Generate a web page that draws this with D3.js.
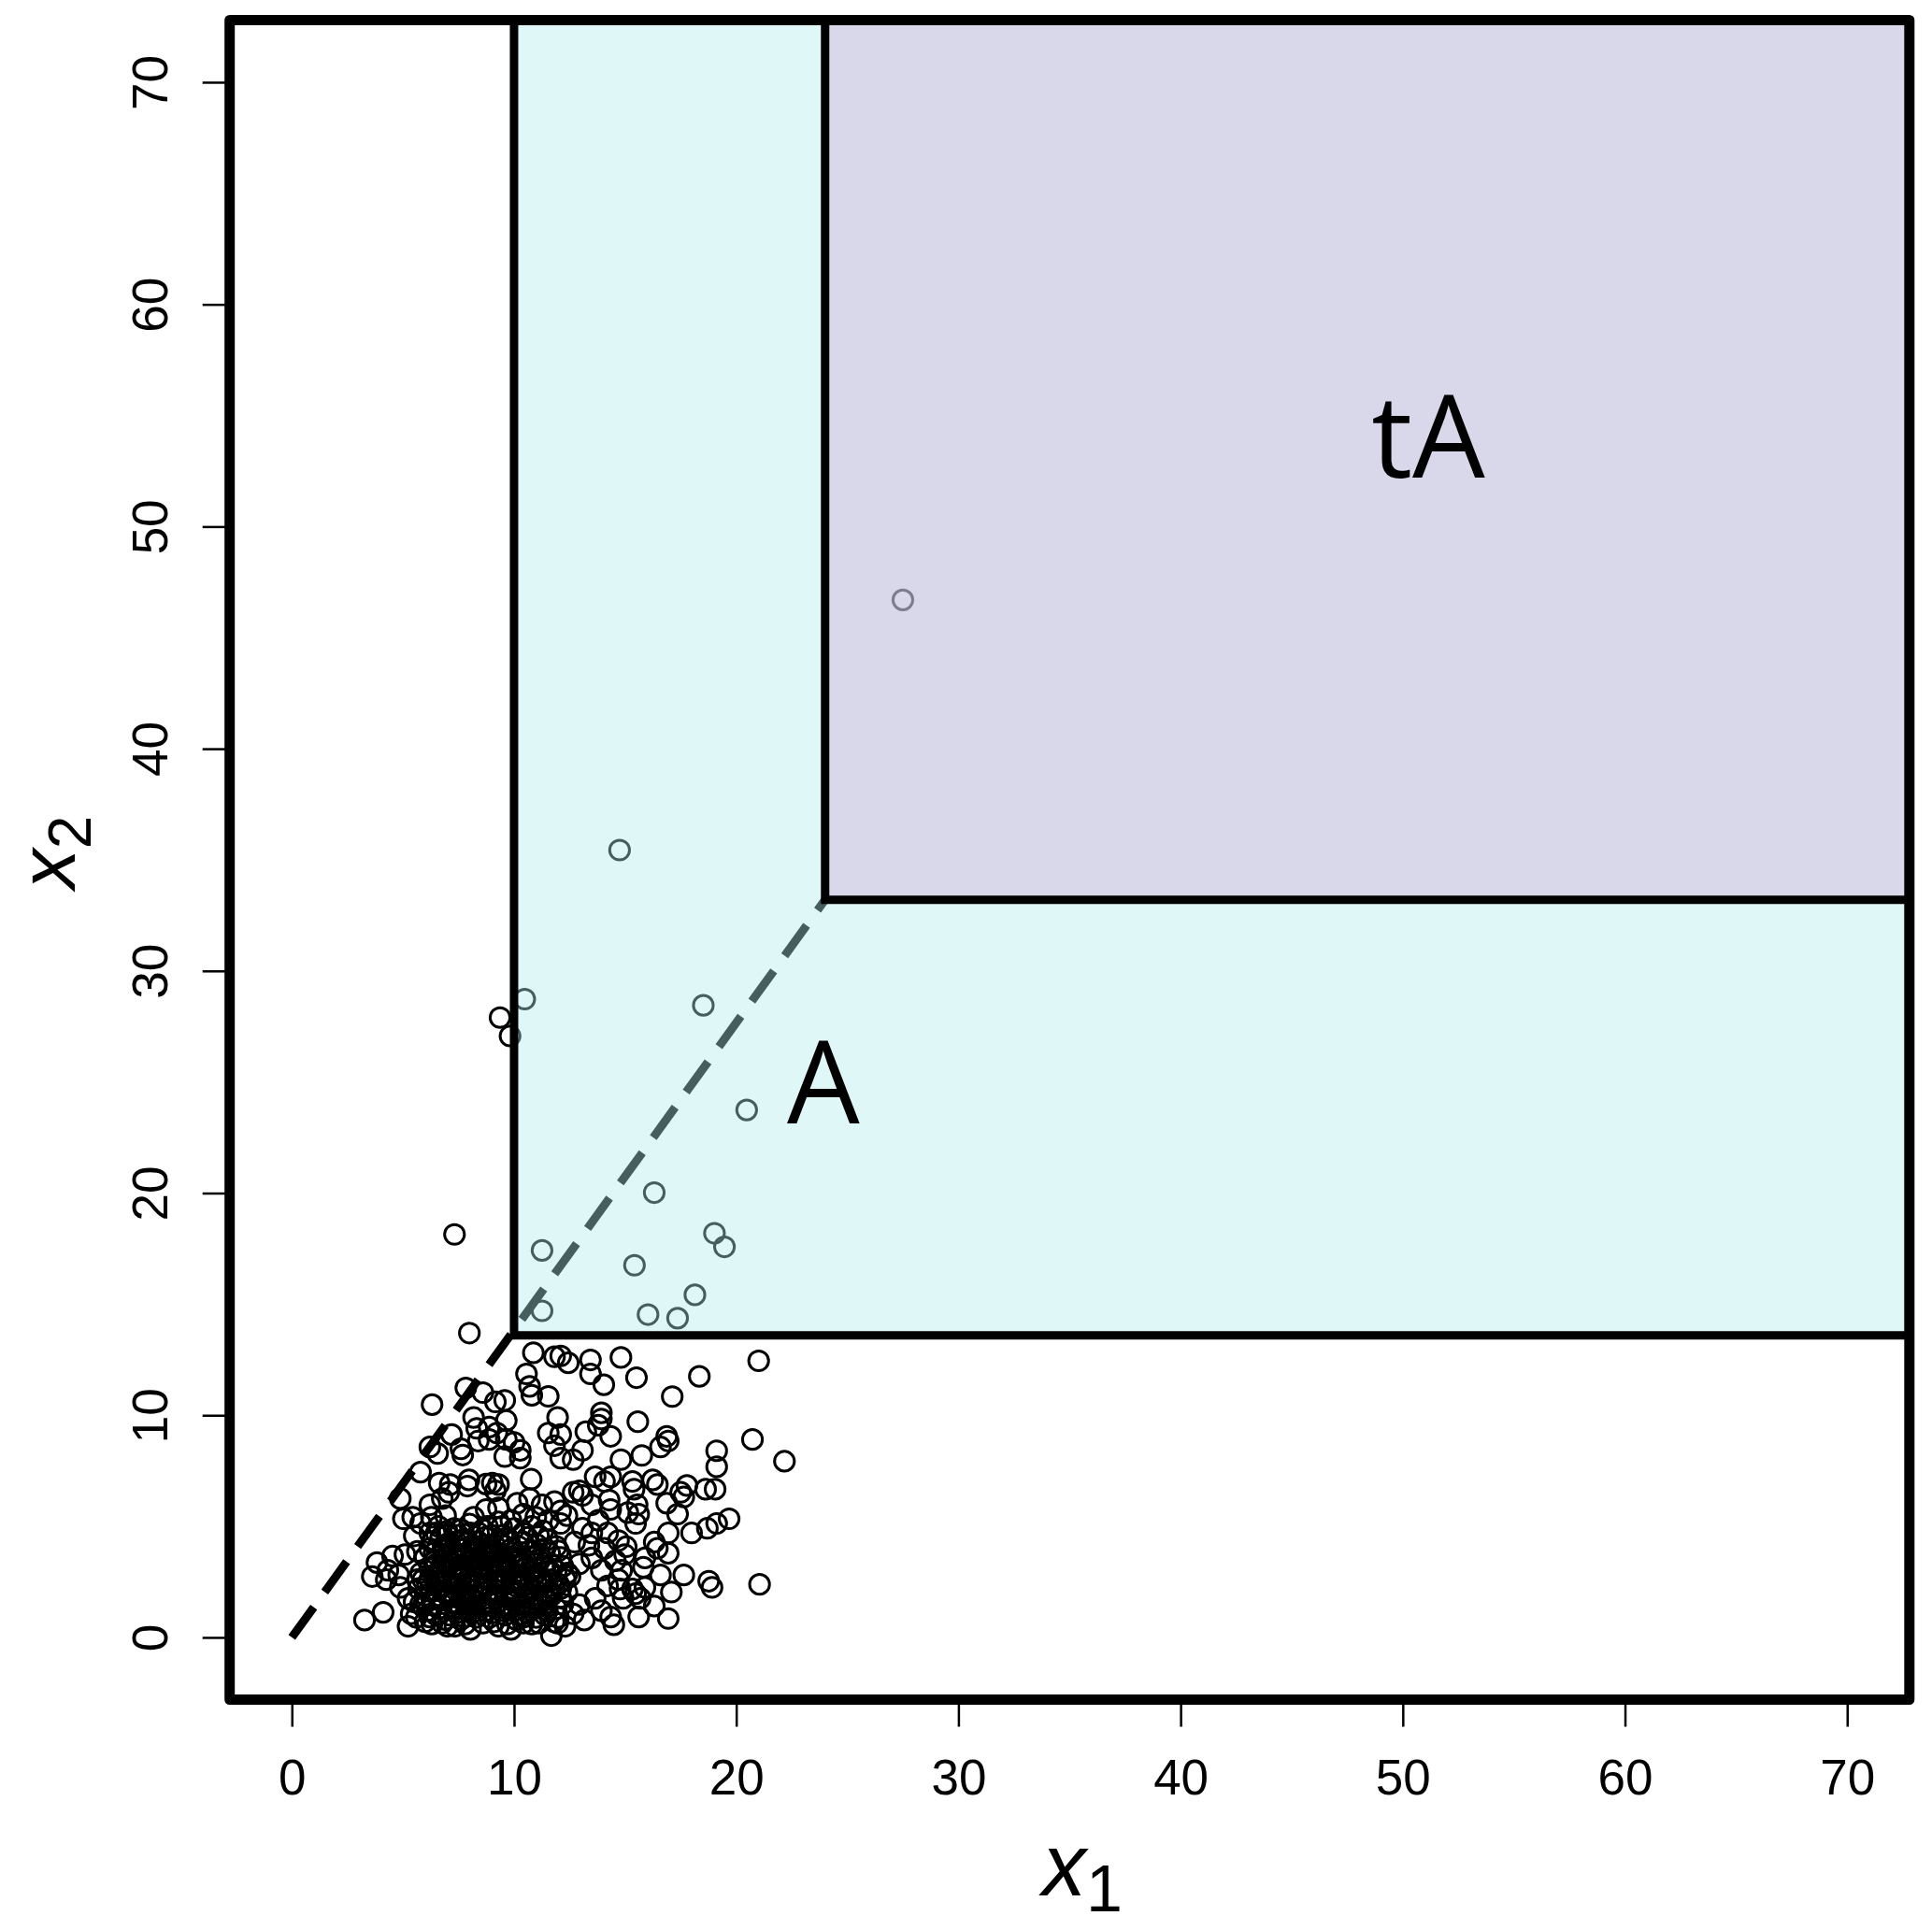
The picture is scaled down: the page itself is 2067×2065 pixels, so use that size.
<!DOCTYPE html>
<html>
<head>
<meta charset="utf-8">
<script src="https://cdn.jsdelivr.net/npm/d3@7"></script>
<style>
	body { margin: 0; background: #fff; }
	text { font-family: "Liberation Sans", Arial, sans-serif; }
</style>
</head>
<body>
<div id="chart"></div>
<script>
// axis ticks (same on both axes)
const tickValues = [0, 10, 20, 30, 40, 50, 60, 70];
const tickLabels = ["0", "10", "20", "30", "40", "50", "60", "70"];

// lower-left corners of the two regions
const cornerA = [10, 13.6];
const cornerTA = [24, 33.2];
const regionLabels = ["A", "tA"];

const outerPoints = [
	[27.5, 46.7], [14.75, 35.44], [9.37, 27.9], [10.48, 28.73], [9.82, 27.07], [18.52, 28.45],
	[20.47, 23.74], [16.31, 20.02], [7.32, 18.14], [19.02, 18.19], [19.47, 17.58], [11.26, 17.42],
	[15.42, 16.75], [18.14, 15.42], [11.26, 14.7], [16.03, 14.53], [17.36, 14.37], [7.99, 13.7]
];

const upperLeftPoints = [
	[10.87, 12.81], [11.82, 12.63], [12.1, 12.67], [12.44, 12.36], [10.56, 11.86], [7.83, 11.23],
	[10.7, 11.3], [10.8, 10.9], [11.54, 10.85], [8.6, 11.02], [9.16, 10.6], [9.58, 10.67],
	[6.31, 10.48], [8.18, 9.9], [9.65, 9.76], [11.96, 9.9], [8.32, 9.41], [8.88, 9.47],
	[9.23, 9.2], [11.54, 9.2], [12.1, 9.13], [7.19, 9.13], [8.39, 8.84], [8.88, 8.91],
	[9.65, 8.91], [10.0, 8.78], [6.21, 8.57], [6.56, 8.28], [7.61, 8.49], [7.69, 8.21],
	[10.28, 8.42], [9.58, 8.14], [10.28, 8.07], [11.82, 8.63], [12.1, 8.07], [5.79, 7.44],
	[7.97, 7.09], [7.13, 6.88], [9.02, 6.95], [9.3, 6.88], [10.77, 7.12], [6.63, 6.95], [8.74, 6.9]
];

const upperRightPoints = [
	[13.44, 12.49], [14.81, 12.6], [13.44, 11.86], [14.04, 11.37], [15.51, 11.69], [18.34, 11.75],
	[21.01, 12.45], [17.12, 10.84], [13.93, 10.11], [13.93, 9.83], [13.79, 9.55], [13.23, 9.26],
	[14.35, 9.05], [15.57, 9.71], [16.87, 9.05], [16.94, 8.84], [16.59, 8.57], [13.08, 8.42],
	[12.66, 8.0], [14.81, 8.0], [15.75, 8.19], [19.12, 8.4], [19.12, 7.68], [20.73, 8.91],
	[22.17, 7.93], [13.65, 7.23], [14.07, 7.02], [14.35, 7.23], [15.33, 7.02], [16.24, 7.09],
	[16.45, 6.88], [17.78, 6.84], [18.62, 6.67], [19.05, 6.67], [12.94, 6.6], [17.5, 6.53]
];

const lowerRightPoints = [
	[19.68, 5.34], [19.12, 5.13], [18.7, 4.91], [17.99, 4.7], [16.87, 6.04], [17.36, 5.55],
	[17.64, 6.32], [15.4, 6.67], [14.35, 5.76], [15.12, 5.62], [15.61, 5.55], [15.47, 5.13],
	[16.94, 4.7], [16.31, 4.29], [16.45, 4.01], [16.94, 3.79], [15.89, 3.58], [15.82, 3.16],
	[17.64, 2.81], [16.59, 2.81], [17.08, 2.04], [15.89, 2.25], [16.31, 1.41], [15.68, 1.76],
	[15.61, 0.92], [16.94, 0.85], [18.76, 2.53], [18.91, 2.25], [21.05, 2.39], [15.33, 2.18],
	[15.47, 1.97], [15.05, 4.08], [14.7, 4.36], [14.21, 4.7], [13.5, 4.7], [13.08, 4.91],
	[12.38, 5.48], [14.28, 6.18], [15.54, 5.97], [13.08, 6.39], [12.66, 6.53], [14.91, 1.76],
	[14.35, 0.92], [14.49, 0.57], [13.16, 0.78], [12.66, 1.06], [14.7, 2.6], [13.93, 3.02],
	[13.5, 3.58], [12.94, 3.31], [12.52, 2.74], [14.21, 2.32], [13.65, 1.76], [12.94, 1.48],
	[12.38, 2.04], [13.93, 1.2], [14.77, 2.18], [14.84, 3.02], [14.98, 3.73], [14.56, 3.45],
	[14.07, 4.01], [13.37, 4.15], [12.73, 4.29], [13.79, 5.27], [13.5, 5.97]
];

const lowerLeftPoints = [
	[4.88, 6.25], [5.02, 5.34], [4.53, 3.66], [3.83, 3.37], [3.62, 2.74], [4.81, 2.81],
	[4.25, 2.6], [4.88, 2.25], [3.27, 0.78], [4.11, 1.13], [5.37, 1.06], [5.23, 0.5],
	[6.21, 5.97], [6.77, 6.25], [7.06, 6.53], [7.9, 6.81], [9.16, 6.6], [9.3, 5.83],
	[8.74, 5.76], [8.18, 5.41], [10.14, 6.04], [10.7, 6.25], [11.26, 5.97], [11.82, 6.11],
	[12.1, 5.69], [5.44, 5.41], [5.79, 5.13], [6.28, 5.41], [6.92, 5.48], [5.51, 4.57],
	[6.21, 4.7], [6.98, 4.78], [7.61, 4.85], [8.04, 4.7], [8.6, 4.85], [9.44, 4.99],
	[9.86, 5.27], [10.42, 5.55], [10.98, 5.41], [11.54, 5.27], [12.1, 5.13], [4.32, 3.02],
	[5.09, 3.73], [5.65, 3.87], [5.65, 2.6], [5.23, 1.76], [5.79, 1.48], [6.21, 0.92],
	[6.77, 0.64], [7.34, 0.5], [8.04, 0.36], [8.6, 0.64], [9.3, 0.5], [9.86, 0.36],
	[10.42, 0.64], [11.12, 0.64], [11.68, 0.08], [11.96, 0.64], [7.76, 0.92]
];

// the solid-black core of the cloud, estimated
const corePoints = [
	[5.6, 0.9], [6.0, 0.7], [6.5, 1.0], [6.9, 0.8], [7.4, 1.1], [7.8, 0.6], [8.3, 0.9], [8.7, 1.2],
	[9.1, 0.7], [9.6, 1.0], [10.1, 0.8], [10.6, 1.1], [11.0, 0.9], [11.5, 1.2], [12.0, 0.9], [12.3, 0.5],
	[5.5, 1.6], [5.9, 1.4], [6.3, 1.7], [6.7, 1.3], [7.1, 1.8], [7.5, 1.5], [7.9, 1.3], [8.2, 1.7],
	[8.6, 1.5], [9.0, 1.9], [9.4, 1.4], [9.8, 1.7], [10.3, 1.5], [10.7, 1.8], [11.2, 1.6], [11.7, 1.9],
	[12.2, 1.5], [5.7, 2.2], [6.1, 2.4], [6.5, 2.1], [6.9, 2.5], [7.3, 2.2], [7.7, 2.0], [8.0, 2.4],
	[8.4, 2.2], [8.8, 2.6], [9.2, 2.1], [9.5, 2.4], [9.9, 2.2], [10.4, 2.5], [10.8, 2.1], [11.3, 2.4],
	[11.8, 2.2], [12.3, 2.6], [5.8, 2.9], [6.2, 3.1], [6.6, 2.8], [7.0, 3.2], [7.4, 2.9], [7.8, 3.1],
	[8.1, 2.8], [8.5, 3.2], [8.9, 3.0], [9.3, 2.8], [9.7, 3.2], [10.0, 2.9], [10.5, 3.1], [10.9, 2.8],
	[11.4, 3.2], [11.9, 3.0], [12.4, 2.9], [6.0, 3.6], [6.4, 3.8], [6.8, 3.5], [7.2, 3.9], [7.6, 3.6],
	[8.0, 3.4], [8.3, 3.8], [8.7, 3.6], [9.1, 3.9], [9.5, 3.5], [9.9, 3.8], [10.2, 3.6], [10.7, 3.9],
	[11.1, 3.5], [11.6, 3.8], [12.1, 3.6], [6.3, 4.3], [6.7, 4.5], [7.1, 4.2], [7.5, 4.6], [7.9, 4.3],
	[8.3, 4.1], [8.7, 4.5], [9.1, 4.2], [9.5, 4.6], [9.8, 4.3], [10.2, 4.1], [10.6, 4.5], [11.0, 4.2],
	[11.5, 4.4], [11.9, 4.1], [6.6, 5.0], [7.3, 4.9], [8.0, 5.1], [8.8, 5.0], [9.3, 5.2], [10.0, 4.9],
	[10.8, 5.0], [11.3, 4.8], [7.3, 1.6], [8.1, 2.1], [8.9, 1.6], [9.6, 2.7], [7.6, 2.6], [8.4, 3.5],
	[9.2, 3.3], [10.1, 2.0], [6.9, 2.0], [7.8, 3.7], [8.6, 2.9], [9.4, 1.2], [10.5, 3.5], [11.0, 2.5],
	[6.4, 2.7], [7.2, 3.4], [8.0, 1.5], [8.8, 4.0], [9.8, 1.3], [10.9, 1.4], [6.1, 1.2], [6.6, 1.3],
	[7.1, 1.0], [7.6, 1.3], [8.1, 1.1], [8.5, 1.4], [9.0, 1.1], [9.5, 1.4], [10.0, 1.2], [10.4, 0.9],
	[10.9, 1.3], [11.4, 1.0], [11.9, 1.3], [6.0, 1.9], [6.6, 2.3], [7.0, 1.9], [7.5, 2.3], [8.0, 1.9],
	[8.6, 2.2], [9.1, 2.4], [9.6, 1.9], [10.1, 2.3], [10.6, 2.0], [11.1, 2.3], [11.6, 2.0], [12.0, 2.4],
	[6.2, 2.6], [6.8, 3.0], [7.3, 2.7], [7.9, 2.6], [8.3, 3.0], [8.8, 2.7], [9.4, 3.0], [9.9, 2.6],
	[10.3, 2.8], [10.8, 3.0], [11.2, 2.7], [11.7, 2.6], [6.5, 3.3], [7.0, 3.6], [7.5, 3.2], [8.1, 3.5],
	[8.6, 3.3], [9.0, 3.6], [9.6, 3.3], [10.1, 3.4], [10.6, 3.2], [11.2, 3.6], [11.7, 3.3], [6.9, 4.0],
	[7.4, 4.3], [7.8, 4.0], [8.4, 4.3], [8.9, 4.0], [9.3, 4.3], [9.9, 4.0], [10.4, 4.3], [10.9, 3.9],
	[6.3, 0.6], [7.0, 0.5], [7.6, 0.8], [8.0, 1.2], [8.9, 0.9], [9.3, 1.6], [9.7, 0.6], [10.3, 1.0],
	[10.8, 0.6], [11.3, 1.4], [11.8, 0.7], [6.4, 1.5], [6.8, 1.7], [7.7, 1.7], [8.4, 1.9], [9.2, 1.8],
	[10.0, 1.6], [10.5, 1.4], [11.0, 1.7], [11.5, 1.7], [12.1, 1.8], [5.9, 2.6], [6.7, 2.6], [7.2, 2.4],
	[7.9, 2.2], [8.7, 2.4], [9.4, 2.6], [10.2, 2.6], [10.7, 2.4], [11.5, 2.5], [12.1, 2.2], [6.4, 3.4],
	[6.9, 3.3], [7.6, 3.0], [8.2, 3.2], [9.0, 3.4], [9.8, 3.0], [10.4, 3.3], [11.0, 3.1], [11.6, 3.0],
	[12.2, 3.2], [6.2, 4.0], [6.8, 4.1], [7.4, 3.7], [8.1, 4.0], [8.6, 3.9], [9.3, 3.7], [10.0, 3.6],
	[10.8, 3.6], [11.4, 4.0], [12.0, 3.9], [6.5, 4.7], [7.0, 4.6], [7.7, 4.4], [8.4, 4.7], [9.0, 4.6],
	[9.7, 4.5], [10.4, 4.7], [11.1, 4.6]
];

const points = [].concat(outerPoints, upperLeftPoints, upperRightPoints, lowerRightPoints, lowerLeftPoints, corePoints);

var width = 2067,
	height = 2065;

var svg = d3
	.select("#chart")
	.append("svg")
	.attr("width", width)
	.attr("height", height)
	.style("background", "#fff");

// R style limits: 0..70 padded by 4% on each side
var lim = [-2.8, 72.8];
var x = d3.scaleLinear().domain(lim).range([245.7, 2042.8]);
var y = d3.scaleLinear().domain(lim).range([1818.5, 21.4]);

// points first, so the tinted regions lie over them
svg.append("g")
	.attr("class", "points")
	.selectAll("circle")
	.data(points)
	.join("circle")
	.attr("cx", (d) => x(d[0]))
	.attr("cy", (d) => y(d[1]))
	.attr("r", 10.6)
	.attr("fill", "none")
	.attr("stroke", "#000")
	.attr("stroke-width", 3);

// dashed ray from the origin to the corner of tA
svg.append("line")
	.attr("x1", x(0))
	.attr("y1", y(0))
	.attr("x2", x(cornerTA[0]))
	.attr("y2", y(cornerTA[1]))
	.attr("stroke", "#000")
	.attr("stroke-width", 9)
	.attr("stroke-dasharray", "40,20");

// translucent fills
svg.append("rect")
	.attr("x", x(cornerA[0]))
	.attr("y", y(lim[1]))
	.attr("width", x(lim[1]) - x(cornerA[0]))
	.attr("height", y(cornerA[1]) - y(lim[1]))
	.attr("fill", "rgb(177,235,237)")
	.attr("fill-opacity", 0.4);

svg.append("rect")
	.attr("x", x(cornerTA[0]))
	.attr("y", y(lim[1]))
	.attr("width", x(lim[1]) - x(cornerTA[0]))
	.attr("height", y(cornerTA[1]) - y(lim[1]))
	.attr("fill", "rgb(204,170,213)")
	.attr("fill-opacity", 0.4);

// region borders
[cornerA, cornerTA].forEach((c) => {
	svg.append("path")
		.attr("d", `M${x(c[0])},${y(lim[1])}L${x(c[0])},${y(c[1])}L${x(lim[1])},${y(c[1])}`)
		.attr("fill", "none")
		.attr("stroke", "#000")
		.attr("stroke-width", 9)
		.attr("stroke-linejoin", "miter");
});

// region labels
svg.append("text")
	.attr("x", 881)
	.attr("y", 1202)
	.attr("text-anchor", "middle")
	.style("font-family", "'Open Sans', sans-serif")
	.style("font-size", "123px")
	.text(regionLabels[0]);

svg.append("text")
	.attr("x", 1528)
	.attr("y", 511)
	.attr("text-anchor", "middle")
	.style("font-family", "'Open Sans', sans-serif")
	.style("font-size", "123px")
	.text(regionLabels[1]);

// axes
var xAxis = svg
	.append("g")
	.attr("transform", `translate(0,${y(lim[0])})`)
	.call(
		d3
			.axisBottom(x)
			.tickValues(tickValues)
			.tickFormat((d, i) => tickLabels[i])
			.tickSize(29)
			.tickPadding(35)
	);

var yAxis = svg
	.append("g")
	.attr("transform", `translate(${x(lim[0])},0)`)
	.call(
		d3
			.axisLeft(y)
			.tickValues(tickValues)
			.tickFormat((d, i) => tickLabels[i])
			.tickSize(29)
	);

[xAxis, yAxis].forEach((g) => {
	g.select(".domain").remove();
	g.selectAll(".tick line").attr("stroke", "#000").attr("stroke-width", 2.5);
	g.selectAll(".tick text")
		.attr("fill", "#000")
		.style("font-family", "'Liberation Sans', Arial, sans-serif")
		.style("font-size", "53px");
});

yAxis
	.selectAll(".tick text")
	.attr("transform", "rotate(-90)")
	.attr("x", 0)
	.attr("y", -67)
	.attr("dy", 0)
	.attr("text-anchor", "middle");

// plot frame
svg.append("rect")
	.attr("x", x(lim[0]))
	.attr("y", y(lim[1]))
	.attr("width", x(lim[1]) - x(lim[0]))
	.attr("height", y(lim[0]) - y(lim[1]))
	.attr("fill", "none")
	.attr("stroke", "#000")
	.attr("stroke-width", 11)
	.attr("stroke-linejoin", "round");

// axis titles: italic x with a subscript
function axisTitle(transform, size, sub) {
	var t = svg
		.append("text")
		.attr("transform", transform)
		.attr("text-anchor", "middle")
		.style("font-size", size + "px");
	t.append("tspan").style("font-style", "italic").text("x");
	t.append("tspan").attr("dy", 17).style("font-size", Math.round(size * 0.74) + "px").text(sub);
}

axisTitle("translate(1158,2028)", 94, "1");
axisTitle("translate(80,912) rotate(-90)", 86, "2");
</script>
</body>
</html>
